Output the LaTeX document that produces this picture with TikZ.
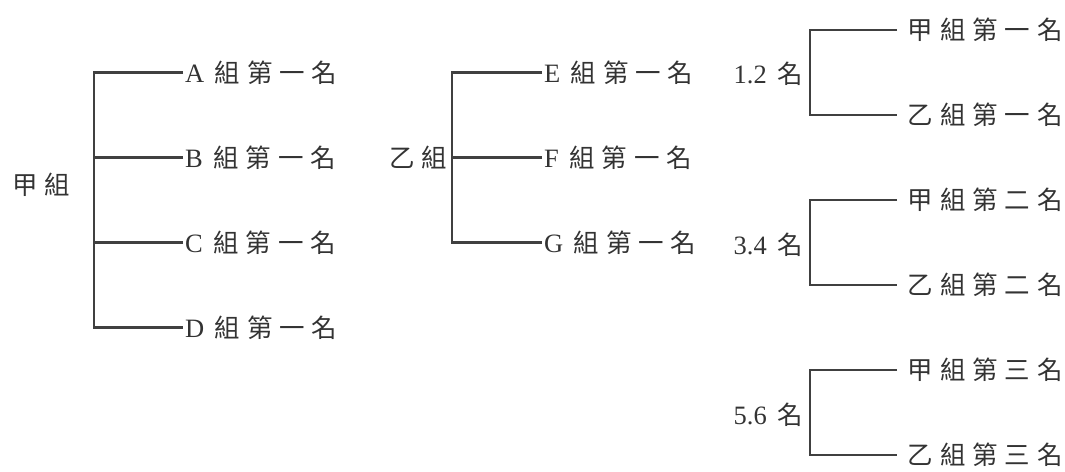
\documentclass[tikz,border=0pt]{standalone}
\usepackage{fontspec}
\setmainfont[Scale=1.04]{Liberation Serif}
\newfontfamily\cjkfont[LetterSpace=27]{Noto Sans CJK TC}
\newcommand{\zhtext}[1]{{\cjkfont #1}}
\newcommand{\zhgap}{\hspace{0.4em}}
\usetikzlibrary{positioning}

\tikzset{
  leaf/.style={anchor=west, inner xsep=1pt, inner ysep=1pt, text=black!80},
  pairleaf/.style={leaf, inner xsep=6pt},
  root/.style={anchor=east, inner sep=1pt, text=black!80},
  bracket/.style={draw=black!75, line width=1.4pt},
}

\begin{document}
\begin{tikzpicture}[x=0.02cm, y=-0.02cm, node distance=1.7cm,
    font=\fontsize{14.5}{17}\selectfont]
    \useasboundingbox (0,0) rectangle (1065,471);

    % 甲組
    \node[root] (jia) at (72,185) {\zhtext{甲組}};
    \node[leaf] (A) at (183,72.5) {A\zhgap\zhtext{組第一名}};
    \node[leaf, below=of A.west, anchor=west] (B) {B\zhgap\zhtext{組第一名}};
    \node[leaf, below=of B.west, anchor=west] (C) {C\zhgap\zhtext{組第一名}};
    \node[leaf, below=of C.west, anchor=west] (D) {D\zhgap\zhtext{組第一名}};
    \coordinate (jiaS) at (94,0);

    % 乙組
    \node[root] (yi) at (449,157.5) {\zhtext{乙組}};
    \node[leaf] (E) at (542,72.5) {E\zhgap\zhtext{組第一名}};
    \node[leaf, below=of E.west, anchor=west] (F) {F\zhgap\zhtext{組第一名}};
    \node[leaf, below=of F.west, anchor=west] (G) {G\zhgap\zhtext{組第一名}};
    \coordinate (yiS) at (452,0);

    % 名次
    \node[pairleaf] (jia1) at (897,30) {\zhtext{甲組第一名}};
    \node[pairleaf, below=of jia1.west, anchor=west] (yi1) {\zhtext{乙組第一名}};
    \node[pairleaf, below=of yi1.west, anchor=west] (jia2) {\zhtext{甲組第二名}};
    \node[pairleaf, below=of jia2.west, anchor=west] (yi2) {\zhtext{乙組第二名}};
    \node[pairleaf, below=of yi2.west, anchor=west] (jia3) {\zhtext{甲組第三名}};
    \node[pairleaf, below=of jia3.west, anchor=west] (yi3) {\zhtext{乙組第三名}};
    \node[root] (r12) at (805,74) {1.2\zhgap\zhtext{名}};
    \node[root] (r34) at (805,245) {3.4\zhgap\zhtext{名}};
    \node[root] (r56) at (805,415) {5.6\zhgap\zhtext{名}};
    \coordinate (rS) at (810,0);

    \draw[bracket] (A.west) -- (A.west -| jiaS) -- (D.west -| jiaS) -- (D.west);
    \draw[bracket] (B.west) -- (B.west -| jiaS);
    \draw[bracket] (C.west) -- (C.west -| jiaS);

    \draw[bracket] (E.west) -- (E.west -| yiS) -- (G.west -| yiS) -- (G.west);
    \draw[bracket] (F.west) -- (F.west -| yiS);

    \draw[bracket] (jia1.west) -- (jia1.west -| rS) -- (yi1.west -| rS) -- (yi1.west);
    \draw[bracket] (jia2.west) -- (jia2.west -| rS) -- (yi2.west -| rS) -- (yi2.west);
    \draw[bracket] (jia3.west) -- (jia3.west -| rS) -- (yi3.west -| rS) -- (yi3.west);
\end{tikzpicture}
\end{document}
